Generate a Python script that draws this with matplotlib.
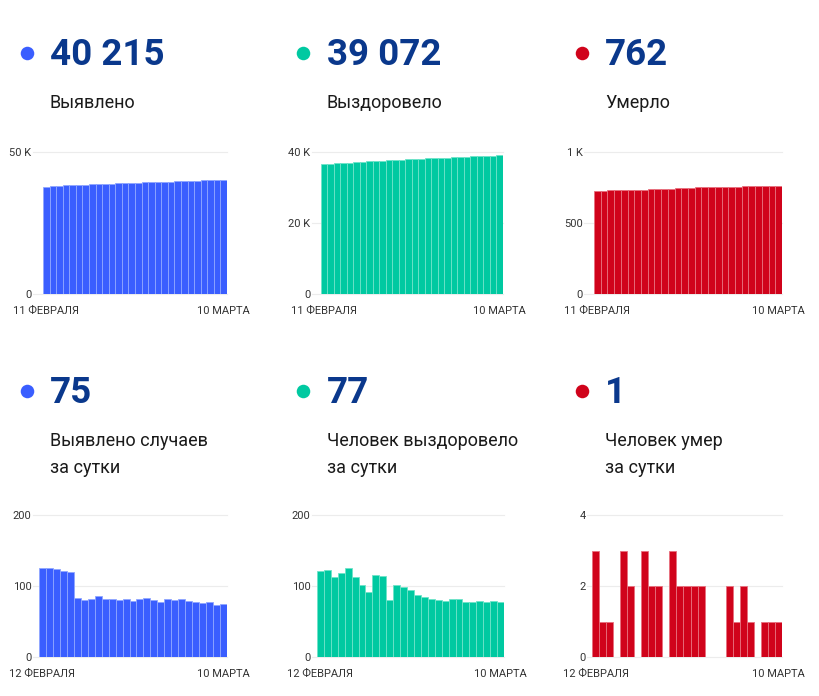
import numpy as np
import matplotlib
matplotlib.use('Agg')
import matplotlib.pyplot as plt

plt.rcParams['font.family'] = ['Roboto', 'DejaVu Sans']

# ---- data ----
cases_total = [37842, 37968, 38093, 38217, 38338, 38458, 38541, 38621, 38702, 38788,
               38870, 38952, 39032, 39114, 39193, 39274, 39357, 39437, 39515, 39596,
               39676, 39758, 39837, 39914, 39990, 40067, 40140, 40215]
recov_total = [36517, 36638, 36761, 36873, 36992, 37117, 37230, 37332, 37424, 37540,
               37654, 37734, 37835, 37934, 38029, 38116, 38201, 38283, 38363, 38442,
               38523, 38604, 38682, 38759, 38838, 38916, 38995, 39072]
death_total = [725, 728, 729, 730, 730, 733, 735, 735, 738, 740,
               742, 742, 745, 747, 749, 751, 753, 753, 753, 753,
               755, 756, 758, 759, 759, 760, 761, 762]
cases_daily = [126, 125, 124, 121, 120, 83, 80, 81, 86, 82, 82, 80, 82, 79,
               81, 83, 80, 78, 81, 80, 82, 79, 77, 76, 77, 73, 75]
recov_daily = [121, 123, 112, 119, 125, 113, 102, 92, 116, 114, 80, 101, 99, 95,
               87, 85, 82, 80, 79, 81, 81, 78, 77, 79, 78, 79, 77]
death_daily = [3, 1, 1, 0, 3, 2, 0, 3, 2, 2, 0, 3, 2, 2,
               2, 2, 0, 0, 0, 2, 1, 2, 1, 0, 1, 1, 1]

headline = ['40 215', '39 072', '762', '75', '77', '1']
captions = [['Выявлено'], ['Выздоровело'], ['Умерло'],
            ['Выявлено случаев', 'за сутки'], ['Человек выздоровело', 'за сутки'],
            ['Человек умер', 'за сутки']]
first_day = ['11 ФЕВРАЛЯ', '11 ФЕВРАЛЯ', '11 ФЕВРАЛЯ', '12 ФЕВРАЛЯ', '12 ФЕВРАЛЯ', '12 ФЕВРАЛЯ']
last_day = '10 МАРТА'
y_ticks = [[0, 50000], [0, 20000, 40000], [0, 500, 1000], [0, 100, 200], [0, 100, 200], [0, 2, 4]]
y_ticklabels = [['0', '50 K'], ['0', '20 K', '40 K'], ['0', '500', '1 K'],
                ['0', '100', '200'], ['0', '100', '200'], ['0', '2', '4']]
series = [cases_total, recov_total, death_total, cases_daily, recov_daily, death_daily]

# ---- style / layout (pixels) ----
blue, teal, red = '#3a5eff', '#00c9a1', '#d0031b'
edge = ['#8fa6ff', '#6fe3c9', '#e8707e']
colors = [blue, teal, red]
navy = '#0a388c'
W, H = 820, 696

# per chart: grid start, bar start, bar end
col_x = [(33, 43, 227), (312, 321, 503), (584, 594, 782),
         (33, 39, 227), (312, 317, 504), (587, 592, 782)]
row_y = [(152, 294), (515, 657)]  # top grid, zero line
dot_x = [27, 303, 582]
num_x = [50, 327, 605]
num_base = [65, 403]
cap_base = [108, 446]

fig = plt.figure(figsize=(W / 100, H / 100), dpi=100)

for i in range(6):
    r, c = i // 3, i % 3
    g0, b0, b1 = col_x[i]
    top, zero = row_y[r]
    ax = fig.add_axes([g0 / W, 1 - zero / H, (b1 - g0) / W, (zero - top) / H])
    vals = series[i]
    n = len(vals)
    bw = (b1 - b0) / n
    ax.bar(np.arange(n), vals, width=1.0, color=colors[c], edgecolor=edge[c],
           linewidth=0.6, zorder=2)
    ax.set_xlim(-0.5 - (b0 - g0) / bw, n - 0.5)
    ax.set_ylim(0, y_ticks[i][-1])
    ax.set_yticks(y_ticks[i])
    ax.set_yticklabels(y_ticklabels[i])
    ax.set_xticks([0, n - 1])
    ax.set_xticklabels([first_day[i], last_day])
    for yt in y_ticks[i]:
        ax.axhline(yt, color='#ececec', lw=0.8, zorder=1, clip_on=False)
    for s in ax.spines.values():
        s.set_visible(False)
    ax.tick_params(axis='both', length=0, labelsize=8, colors='#333333')
    ax.tick_params(axis='y', pad=1)
    ax.tick_params(axis='x', pad=8.5)
    ax.patch.set_alpha(0)

# overlay for headers
ov = fig.add_axes([0, 0, 1, 1])
ov.set_xlim(0, W)
ov.set_ylim(H, 0)
ov.axis('off')
ov.patch.set_alpha(0)
for i in range(6):
    r, c = i // 3, i % 3
    ov.scatter([dot_x[c]], [num_base[r] - 12], s=95, color=colors[c], lw=0)
    ov.text(num_x[c], num_base[r], headline[i], fontsize=26.5, fontweight='bold',
            color=navy, va='baseline', ha='left')
    for k, line in enumerate(captions[i]):
        ov.text(num_x[c], cap_base[r] + 27 * k, line, fontsize=13,
                color='#1a1a1a', va='baseline', ha='left')

fig.savefig('out.png', dpi=100)
